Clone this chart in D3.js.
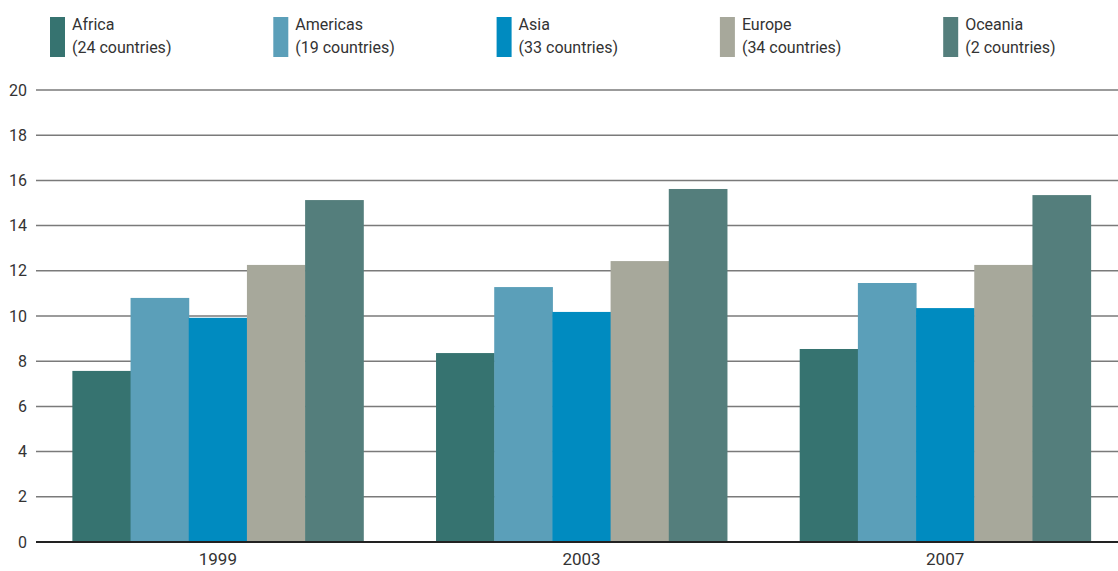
<!DOCTYPE html>
<html>
<head>
<meta charset="utf-8">
<script src="https://cdn.jsdelivr.net/npm/d3@7"></script>
<style>
  body { margin: 0; background: #fff; }
  text { font-family: Roboto, "Noto Sans", sans-serif; fill: #333; }
</style>
</head>
<body>
<div id="chart"></div>
<script>
// data
const years = ["1999", "2003", "2007"];
const regions = ["Africa", "Americas", "Asia", "Europe", "Oceania"];
const region_notes = ["(24 countries)", "(19 countries)", "(33 countries)", "(34 countries)", "(2 countries)"];
const colors = ["#367370", "#5b9fb9", "#008bc0", "#a7a89b", "#547e7c"];
const africa = [7.57, 8.36, 8.54];
const americas = [10.8, 11.28, 11.46];
const asia = [9.92, 10.18, 10.35];
const europe = [12.26, 12.43, 12.26];
const oceania = [15.13, 15.62, 15.35];
const y_ticks = [0, 2, 4, 6, 8, 10, 12, 14, 16, 18, 20];

function main_chart(width = 1118, height = 571) {
  const margin = {top: 90, right: -9, bottom: 29, left: 36};
  const series = [africa, americas, asia, europe, oceania];

  const svg = d3.select("#chart").append("svg")
    .attr("width", width)
    .attr("height", height);

  const x0 = d3.scaleBand()
    .domain(years)
    .range([margin.left, width - margin.right])
    .paddingInner(0.2)
    .paddingOuter(0.1);

  const x1 = d3.scaleBand()
    .domain(regions)
    .range([0, x0.bandwidth()]);

  const y = d3.scaleLinear()
    .domain([0, 20])
    .range([height - margin.bottom, margin.top]);

  // gridlines + y labels
  const grid = svg.append("g");
  grid.selectAll("line")
    .data(y_ticks.filter(d => d > 0))
    .join("line")
    .attr("x1", margin.left).attr("x2", width)
    .attr("y1", d => y(d)).attr("y2", d => y(d))
    .attr("stroke", "#7a7a7a")
    .attr("stroke-width", 1.5);

  grid.selectAll("text")
    .data(y_ticks)
    .join("text")
    .attr("x", 27)
    .attr("y", d => y(d))
    .attr("dy", "0.35em")
    .attr("text-anchor", "end")
    .style("font-size", "16px")
    .text(d => d);

  // bars
  const groups = svg.append("g").selectAll("g")
    .data(years)
    .join("g")
    .attr("transform", d => `translate(${x0(d)},0)`);

  groups.selectAll("rect")
    .data((d, i) => regions.map((r, j) => ({region: r, value: series[j][i], color: colors[j]})))
    .join("rect")
    .attr("x", d => x1(d.region))
    .attr("width", x1.bandwidth() + 0.5)
    .attr("y", d => y(d.value))
    .attr("height", d => y(0) - y(d.value))
    .attr("fill", d => d.color);

  // zero line
  svg.append("line")
    .attr("x1", margin.left).attr("x2", width)
    .attr("y1", y(0)).attr("y2", y(0))
    .attr("stroke", "#222")
    .attr("stroke-width", 2);

  // year labels
  svg.append("g").selectAll("text")
    .data(years)
    .join("text")
    .attr("x", d => x0(d) + x0.bandwidth() / 2)
    .attr("y", height - 6)
    .attr("text-anchor", "middle")
    .style("font-size", "17px")
    .text(d => d);

  // legend
  const legend = svg.append("g").selectAll("g")
    .data(regions)
    .join("g")
    .attr("transform", (d, i) => `translate(${50 + i * 223.3},0)`);

  legend.append("rect")
    .attr("x", 0).attr("y", 17)
    .attr("width", 15).attr("height", 40)
    .attr("fill", (d, i) => colors[i]);

  legend.append("text")
    .attr("x", 22).attr("y", 30)
    .style("font-size", "16px")
    .text(d => d);

  legend.append("text")
    .attr("x", 22).attr("y", 53)
    .style("font-size", "16px")
    .text((d, i) => region_notes[i]);

  return svg.node();
}

main_chart();
</script>
</body>
</html>
